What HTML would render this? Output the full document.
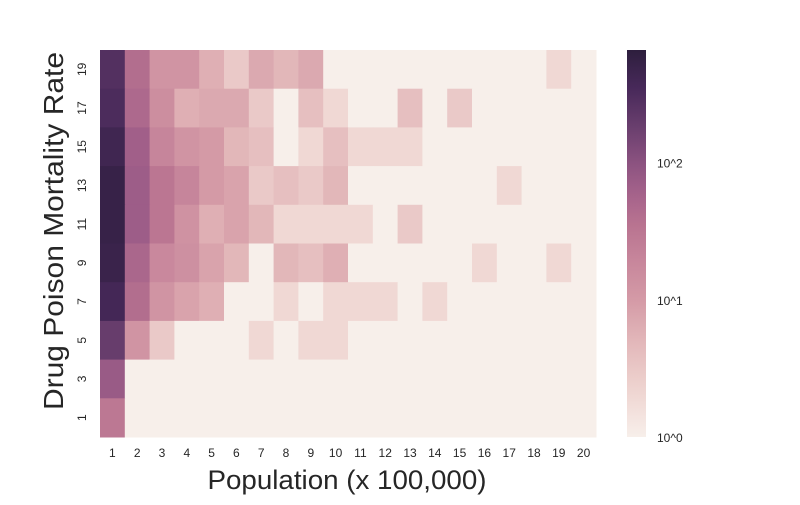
<!DOCTYPE html>
<html><head><meta charset="utf-8"><style>
body{margin:0;background:#fff;font-family:"Liberation Sans",sans-serif}
svg text{font-family:"Liberation Sans",sans-serif;fill:#262626}
</style></head><body>
<svg id="c" width="800" height="500">
<defs><linearGradient id="cb" x1="0" y1="1" x2="0" y2="0"></linearGradient></defs>
<g id="cells"></g>
<g id="ticks"></g>
<rect x="627" y="50" width="19" height="387" fill="url(#cb)"/>
<text x="0" y="0" font-size="28" text-anchor="middle" textLength="358" lengthAdjust="spacingAndGlyphs" transform="translate(63,231) rotate(-90)">Drug Poison Mortality Rate</text>
<text x="347" y="489" font-size="27" text-anchor="middle" textLength="279" lengthAdjust="spacingAndGlyphs">Population (x 100,000)</text>
</svg>
<script>
const xLabels=[1,2,3,4,5,6,7,8,9,10,11,12,13,14,15,16,17,18,19,20];
const yLabels=[19,17,15,13,11,9,7,5,3,1];
const row19=[280,42,12,12,6,3,7,5,7,1,1,1,1,1,1,1,1,1,2,1];
const row17=[320,48,15,6,7,7,3,1,4,2,1,1,4,1,3,1,1,1,1,1];
const row15=[420,65,20,12,10,5,4,1,2,4,2,2,2,1,1,1,1,1,1,1];
const row13=[520,70,32,20,10,8,3,4,3,5,1,1,1,1,1,1,2,1,1,1];
const row11=[520,70,32,13,6,8,5,2,2,2,2,1,3,1,1,1,1,1,1,1];
const row9=[480,52,18,14,8,5,1,5,4,6,1,1,1,1,1,2,1,1,2,1];
const row7=[380,42,12,8,6,1,1,2,1,2,2,2,1,2,1,1,1,1,1,1];
const row5=[190,12,3,1,1,1,2,1,2,2,1,1,1,1,1,1,1,1,1,1];
const row3=[75,1,1,1,1,1,1,1,1,1,1,1,1,1,1,1,1,1,1,1];
const row1=[30,1,1,1,1,1,1,1,1,1,1,1,1,1,1,1,1,1,1,1];
const rows=[row19,row17,row15,row13,row11,row9,row7,row5,row3,row1];
const cbTicks=["10^0","10^1","10^2"];
const NS="http://www.w3.org/2000/svg";
const X0=100,X1=596,Y0=50,Y1=437,LMAX=2.82;
const stops=[[0,"#f7efea"],[0.12,"#efd5d1"],[0.25,"#e2b6b9"],[0.354,"#d49aa6"],[0.45,"#c8879c"],[0.55,"#b87390"],[0.63,"#a5628b"],[0.708,"#8b5280"],[0.8,"#6a3f6e"],[0.9,"#48295a"],[1,"#2d1e3d"]];
function hx(h){return [1,3,5].map(i=>parseInt(h.substr(i,2),16));}
function cmap(t){t=Math.max(0,Math.min(1,t));for(let i=1;i<stops.length;i++){if(t<=stops[i][0]){const a=stops[i-1],b=stops[i];const f=(t-a[0])/(b[0]-a[0]);const ca=hx(a[1]),cb=hx(b[1]);return "rgb("+ca.map((v,k)=>Math.round(v+(cb[k]-v)*f)).join(",")+")";}}return stops[stops.length-1][1];}
const cw=(X1-X0)/xLabels.length,ch=(Y1-Y0)/yLabels.length;
const xs=i=>X0+i*cw, ys=j=>Y0+j*ch, tv=v=>Math.log10(Math.max(v,1))/LMAX;
const g=document.getElementById('cells');
rows.forEach((r,j)=>r.forEach((v,i)=>{
 const el=document.createElementNS(NS,'rect');
 el.setAttribute('x',xs(i));el.setAttribute('y',ys(j));el.setAttribute('width',cw+0.5);el.setAttribute('height',ch+0.5);
 el.setAttribute('fill',cmap(tv(v)));
 
 
 g.appendChild(el);}));
const tk=document.getElementById('ticks');
xLabels.forEach((l,i)=>{const t=document.createElementNS(NS,'text');t.setAttribute('x',xs(i)+cw/2);t.setAttribute('y',457);t.setAttribute('font-size','12');t.setAttribute('text-anchor','middle');t.textContent=l;
 
 
 tk.appendChild(t);});
yLabels.forEach((l,j)=>{const t=document.createElementNS(NS,'text');const cy=ys(j)+ch/2;t.setAttribute('transform','translate(86,'+cy+') rotate(-90)');t.setAttribute('font-size','12');t.setAttribute('text-anchor','middle');t.textContent=l;
 
 
 tk.appendChild(t);});
cbTicks.forEach((l,k)=>{const t=document.createElementNS(NS,'text');t.setAttribute('x',657);t.setAttribute('y',Y1-(k/LMAX)*(Y1-Y0)+5);t.setAttribute('font-size','12');t.textContent=l;
 
 
 tk.appendChild(t);});
const gr=document.getElementById('cb');
for(let k=0;k<=20;k++){const s=document.createElementNS(NS,'stop');s.setAttribute('offset',k/20);s.setAttribute('stop-color',cmap(k/20));gr.appendChild(s);}
</script>
</body></html>
